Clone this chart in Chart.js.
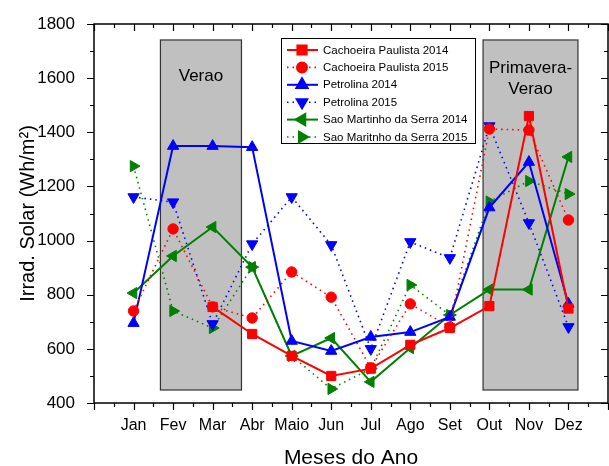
<!DOCTYPE html>
<html>
<head>
<meta charset="utf-8">
<script src="https://cdn.jsdelivr.net/npm/chart.js@4.4.0/dist/chart.umd.min.js"></script>
<style>
  html, body { margin: 0; padding: 0; background: #fff; }
  #wrap { width: 609px; height: 466px; }
</style>
</head>
<body>
<div id="wrap"><canvas id="irradChart" width="609" height="466"></canvas></div>
<script>
// month labels and series values (Wh/m²)
const months = ['Jan', 'Fev', 'Mar', 'Abr', 'Maio', 'Jun', 'Jul', 'Ago', 'Set', 'Out', 'Nov', 'Dez'];
const cachoeira2014 = [null, null, 755, 655, 574, 500, 527, 615, 677, 758, 1460, 749];
const cachoeira2015 = [740, 1043, 755, 714, 884, 791, 530, 766, 681, 1412, 1408, 1076];
const petrolina2014 = [695, 1349, 1349, 1345, 629, 592, 644, 662, 718, 1122, 1290, 766];
const petrolina2015 = [1161, 1142, 692, 987, 1161, 984, 600, 995, 936, 1423, 1065, 681];
const martinho2014 = [806, 943, 1050, 902, 574, 640, 478, 603, 725, 819, 819, 1309];
const martinho2015 = [1275, 740, 677, 902, 574, 452, 527, 836, 725, 1144, 1220, 1172];

// shaded season bands in axis units
const seasonBands = [
  { from: 1.68, to: 3.73, low: 448, high: 1741, lines: ['Verao'], textY: [1608] },
  { from: 9.84, to: 12.24, low: 448, high: 1741, lines: ['Primavera-', 'Verao'], textY: [1637, 1560] }
];

const FONT = '"Liberation Sans", Arial, sans-serif';

function toPoints(arr) {
  return arr.map((v, i) => ({ x: i + 1, y: v }));
}

function series(label, data, color, style, rotation, dotted) {
  let r = 6.5;
  if (style === 'circle') r = 5.2;
  return {
    label,
    data: toPoints(data),
    borderColor: color,
    backgroundColor: color,
    pointBackgroundColor: color,
    pointBorderColor: color,
    pointStyle: style,
    pointRotation: rotation,
    pointRadius: r,
    pointBorderWidth: 1,
    borderWidth: dotted ? 1.6 : 2,
    borderDash: dotted ? [1.5, 4] : [],
    spanGaps: false,
    tension: 0
  };
}

// gray season boxes under the data
const bandsPlugin = {
  id: 'bands',
  beforeDatasetsDraw(chart) {
    const { ctx, scales: { x, y } } = chart;
    ctx.save();
    seasonBands.forEach(b => {
      const x0 = x.getPixelForValue(b.from), x1 = x.getPixelForValue(b.to);
      const y0 = y.getPixelForValue(b.high), y1 = y.getPixelForValue(b.low);
      ctx.fillStyle = '#c0c0c0';
      ctx.fillRect(x0, y0, x1 - x0, y1 - y0);
      ctx.strokeStyle = '#333';
      ctx.lineWidth = 1.2;
      ctx.strokeRect(x0, y0, x1 - x0, y1 - y0);
      ctx.fillStyle = '#000';
      ctx.font = '17px ' + FONT;
      ctx.textAlign = 'center';
      ctx.textBaseline = 'middle';
      b.lines.forEach((t, i) => {
        ctx.fillText(t, (x0 + x1) / 2, y.getPixelForValue(b.textY[i]));
      });
    });
    ctx.restore();
  }
};

// frame, major/minor ticks on all four sides, and the inset legend
const frameLegendPlugin = {
  id: 'frameLegend',
  afterDraw(chart) {
    const { ctx, chartArea: a, scales: { x, y } } = chart;
    ctx.save();
    ctx.strokeStyle = '#000';
    ctx.lineWidth = 1.5;
    ctx.strokeRect(a.left, a.top, a.right - a.left, a.bottom - a.top);

    ctx.lineWidth = 1.2;
    ctx.beginPath();
    for (let v = 400; v <= 1800; v += 100) {
      const py = Math.round(y.getPixelForValue(v)) + 0.5;
      const len = v % 200 === 0 ? 7 : 4;
      ctx.moveTo(a.left - len, py); ctx.lineTo(a.left, py);
      ctx.moveTo(a.right - len, py); ctx.lineTo(a.right, py);
    }
    for (let v = 0; v <= 13; v += 0.5) {
      const px = Math.round(x.getPixelForValue(v)) + 0.5;
      const len = v % 1 === 0 ? 7 : 4;
      ctx.moveTo(px, a.bottom); ctx.lineTo(px, a.bottom + len);
      ctx.moveTo(px, a.top); ctx.lineTo(px, a.top + len);
    }
    ctx.stroke();

    // legend box
    const bx = 281, by = 38, bw = 194, bh = 105;
    ctx.fillStyle = '#fff';
    ctx.fillRect(bx, by, bw, bh);
    ctx.lineWidth = 1;
    ctx.strokeStyle = '#000';
    ctx.strokeRect(bx + 0.5, by + 0.5, bw, bh);
    ctx.font = '11.5px ' + FONT;
    ctx.textAlign = 'left';
    ctx.textBaseline = 'middle';
    chart.data.datasets.forEach((ds, i) => {
      const ry = by + 12 + i * 17.4;
      ctx.strokeStyle = ds.borderColor;
      ctx.lineWidth = ds.borderWidth;
      ctx.setLineDash(ds.borderDash);
      ctx.beginPath();
      ctx.moveTo(bx + 6, ry); ctx.lineTo(bx + 37, ry);
      ctx.stroke();
      ctx.setLineDash([]);
      ctx.fillStyle = ds.borderColor;
      Chart.helpers.drawPoint(ctx, {
        pointStyle: ds.pointStyle,
        rotation: ds.pointRotation,
        radius: ds.pointRadius,
        borderWidth: 1
      }, bx + 21, ry);
      ctx.fillStyle = '#000';
      ctx.fillText(ds.label, bx + 42, ry + 0.5);
    });
    ctx.restore();
  }
};

new Chart(document.getElementById('irradChart'), {
  type: 'line',
  data: {
    datasets: [
      series('Cachoeira Paulista 2014', cachoeira2014, '#ff0000', 'rect', 0, false),
      series('Cachoeira Paulista 2015', cachoeira2015, '#ff0000', 'circle', 0, true),
      series('Petrolina 2014', petrolina2014, '#0000ff', 'triangle', 0, false),
      series('Petrolina 2015', petrolina2015, '#0000ff', 'triangle', 180, true),
      series('Sao Martinho da Serra 2014', martinho2014, '#008000', 'triangle', -90, false),
      series('Sao Maritnho da Serra 2015', martinho2015, '#008000', 'triangle', 90, true)
    ]
  },
  options: {
    responsive: false,
    animation: false,
    layout: { autoPadding: false, padding: { top: 24, right: 1, left: 0, bottom: 0 } },
    plugins: {
      legend: { display: false },
      tooltip: { enabled: false }
    },
    scales: {
      x: {
        type: 'linear',
        min: 0,
        max: 13,
        grid: { display: false },
        border: { display: false },
        afterFit: s => { s.height = 63; s.paddingLeft = 0; s.paddingRight = 0; },
        afterBuildTicks: s => {
          s.ticks = months.map((m, i) => ({ value: i + 1 }));
        },
        ticks: {
          color: '#000',
          font: { family: FONT, size: 16 },
          padding: 5,
          maxRotation: 0,
          autoSkip: false,
          callback: v => months[v - 1] || ''
        },
        title: {
          display: true,
          text: 'Meses do Ano',
          color: '#000',
          font: { family: FONT, size: 21 },
          padding: { top: 0, bottom: -5 }
        }
      },
      y: {
        min: 400,
        max: 1800,
        grid: { display: false },
        border: { display: false },
        afterFit: s => { s.width = 94; },
        ticks: {
          stepSize: 200,
          color: '#000',
          font: { family: FONT, size: 17 },
          padding: 11,
          callback: v => String(v)
        },
        title: {
          display: true,
          text: 'Irrad. Solar (Wh/m²)',
          color: '#000',
          font: { family: FONT, size: 20 },
          padding: { top: 16, bottom: 0 }
        }
      }
    }
  },
  plugins: [bandsPlugin, frameLegendPlugin]
});
</script>
</body>
</html>
